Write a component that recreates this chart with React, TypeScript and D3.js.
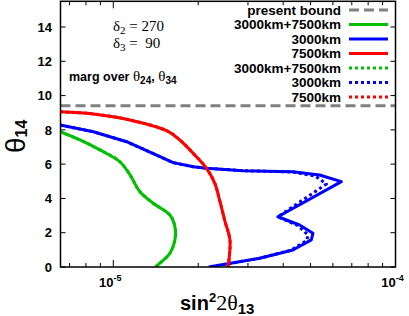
import React from 'react';
import * as d3 from 'd3';

// curves: [sin^2 2theta13, theta14 (deg)]
const green = [
  [6.48e-6, 7.89], [7.62e-6, 7.41], [8.97e-6, 6.83], [1.055e-5, 6.14], [1.146e-5, 5.37],
  [1.243e-5, 4.39], [1.385e-5, 3.72], [1.587e-5, 3.03], [1.653e-5, 2.35], [1.653e-5, 1.58],
  [1.587e-5, 0.8], [1.463e-5, 0.22], [1.41e-5, 0],
];
const blue = [
  [6.48e-6, 8.28], [8.5e-6, 7.89], [1.115e-5, 7.31], [1.463e-5, 6.44], [1.63e-5, 6.09],
  [1.92e-5, 5.85], [2.14e-5, 5.76], [2.88e-5, 5.62], [4.33e-5, 5.56], [5.38e-5, 5.37],
  [6.43e-5, 4.98], [3.83e-5, 2.93], [4.57e-5, 2.45], [5.1e-5, 1.97], [5.03e-5, 1.58],
  [4.33e-5, 0.99], [3.3e-5, 0.51], [2.18e-5, 0],
];
const red = [
  [6.48e-6, 9.06], [8.5e-6, 8.93], [1.115e-5, 8.62], [1.545e-5, 7.95], [1.72e-5, 7.41],
  [1.92e-5, 6.63], [2.14e-5, 5.76], [2.29e-5, 4.88], [2.38e-5, 3.91], [2.48e-5, 2.74],
  [2.59e-5, 1.58], [2.57e-5, 0.41], [2.55e-5, 0],
];
const greenDot = green;
const blueDot = [
  [6.48e-6, 8.28], [8.5e-6, 7.89], [1.115e-5, 7.31], [1.463e-5, 6.44], [1.63e-5, 6.09],
  [1.92e-5, 5.85], [2.14e-5, 5.76], [2.88e-5, 5.62], [4.33e-5, 5.54], [5.2e-5, 5.3],
  [5.69e-5, 4.84], [3.83e-5, 2.93], [4.5e-5, 2.42], [4.9e-5, 1.87], [4.85e-5, 1.55],
  [4.25e-5, 0.97], [3.28e-5, 0.5], [2.18e-5, 0],
];
const redDot = red;
const presentBound = 9.4;

const yTicks = [0, 2, 4, 6, 8, 10, 12, 14];
const xMajor = [1e-5, 1e-4];
const xMinor = [7e-6, 8e-6, 9e-6, 2e-5, 3e-5, 4e-5, 5e-5, 6e-5, 7e-5, 8e-5, 9e-5];

const legendItems = [
  { label: 'present bound', color: '#808080', dash: '10,5' },
  { label: '3000km+7500km', color: '#00c000', dash: null },
  { label: '3000km', color: '#0000ff', dash: null },
  { label: '7500km', color: '#ff0000', dash: null },
  { label: '3000km+7500km', color: '#00c000', dash: '3,3' },
  { label: '3000km', color: '#0000ff', dash: '3,3' },
  { label: '7500km', color: '#ff0000', dash: '3,3' },
];

const sans = '"Liberation Sans", Arial, sans-serif';
const serif = '"Liberation Serif", "Times New Roman", serif';

export default function App() {
  const W = 409, H = 316;
  const left = 60.5, right = 395.5, top = 1.3, bottom = 267;
  const x = d3.scaleLog().domain([6.5e-6, 1e-4]).range([left, right]);
  const y = d3.scaleLinear().domain([0, 15.5]).range([bottom, top]);
  const line = d3.line<number[]>().x(d => x(d[0])).y(d => y(d[1]));
  const smooth = d3.line<number[]>().x(d => x(d[0])).y(d => y(d[1])).curve(d3.curveCatmullRom.alpha(0.5));

  const series = [
    { data: greenDot, color: '#00c000', dash: '3,3', gen: smooth },
    { data: blueDot, color: '#0000ff', dash: '3,3', gen: line },
    { data: redDot, color: '#ff0000', dash: '3,3', gen: smooth },
    { data: green, color: '#00c000', dash: null, gen: smooth },
    { data: blue, color: '#0000ff', dash: null, gen: line },
    { data: red, color: '#ff0000', dash: null, gen: smooth },
  ];

  return (
    <svg width={W} height={H} style={{ position: 'absolute', left: 0, top: 0 }}>
      <rect width={W} height={H} fill="#fff" />
      <defs>
        <clipPath id="plot">
          <rect x={left} y={top} width={right - left} height={bottom - top} />
        </clipPath>
      </defs>
      <g clipPath="url(#plot)">
        <line x1={left} x2={right} y1={y(presentBound)} y2={y(presentBound)}
          stroke="#808080" strokeWidth={3} strokeDasharray="10,5" />
        {series.map((s, i) => (
          <path key={i} d={s.gen(s.data) || ''} fill="none" stroke={s.color} strokeWidth={3}
            strokeDasharray={s.dash || undefined} strokeLinejoin="round" />
        ))}
      </g>

      {/* ticks */}
      {yTicks.map(t => (
        <g key={t}>
          <line x1={left} x2={left + 5} y1={y(t)} y2={y(t)} stroke="#000" />
          <line x1={right} x2={right - 5} y1={y(t)} y2={y(t)} stroke="#000" />
          <text x={52} y={y(t)} dy="0.36em" textAnchor="end" fontFamily={sans} fontWeight="bold" fontSize={13}>{t}</text>
        </g>
      ))}
      {xMajor.map(t => (
        <g key={t}>
          <line x1={x(t)} x2={x(t)} y1={bottom} y2={bottom - 7} stroke="#000" />
          <line x1={x(t)} x2={x(t)} y1={top} y2={top + 7} stroke="#000" />
          <text x={x(t) - 3} y={287} textAnchor="middle" fontFamily={sans} fontWeight="bold" fontSize={13}>
            10<tspan fontSize={9} dy={-6}>{Math.round(Math.log10(t))}</tspan>
          </text>
        </g>
      ))}
      {xMinor.map(t => (
        <g key={t}>
          <line x1={x(t)} x2={x(t)} y1={bottom} y2={bottom - 4} stroke="#000" />
          <line x1={x(t)} x2={x(t)} y1={top} y2={top + 4} stroke="#000" />
        </g>
      ))}
      <rect x={left} y={top} width={right - left} height={bottom - top} fill="none" stroke="#000" strokeWidth={1.5} />

      {/* legend */}
      {legendItems.map((d, i) => {
        const ly = 10 + i * 14.5;
        return (
          <g key={i}>
            <text x={341} y={ly} dy="0.36em" textAnchor="end" fontFamily={sans} fontWeight="bold" fontSize={13.5}>{d.label}</text>
            <line x1={349} x2={388} y1={ly} y2={ly} stroke={d.color} strokeWidth={3} strokeDasharray={d.dash || undefined} />
          </g>
        );
      })}

      {/* annotations */}
      <text x={113} y={31} fontFamily={serif} fontSize={15} style={{ whiteSpace: 'pre' }}>
        δ<tspan fontSize={11} dy={3}>2</tspan><tspan dy={-3}> = 270</tspan>
      </text>
      <text x={113} y={48} fontFamily={serif} fontSize={15} style={{ whiteSpace: 'pre' }}>
        δ<tspan fontSize={11} dy={3}>3</tspan><tspan dy={-3}> =  90</tspan>
      </text>
      <text x={69} y={81} fontFamily={sans} fontWeight="bold" fontSize={12.5}>
        marg over <tspan fontFamily={serif} fontWeight="normal" fontSize={15}>θ</tspan>
        <tspan fontSize={10} dy={3}>24</tspan><tspan dy={-3}>, </tspan>
        <tspan fontFamily={serif} fontWeight="normal" fontSize={15}>θ</tspan>
        <tspan fontSize={10} dy={3}>34</tspan>
      </text>

      {/* axis titles */}
      <text x={180} y={310} fontFamily={sans} fontWeight="bold" fontSize={20}>
        sin<tspan fontSize={13} dy={-8}>2</tspan>
        <tspan fontFamily={serif} fontWeight="normal" fontSize={22} dy={8}>2θ</tspan>
        <tspan fontSize={15} dy={4}>13</tspan>
      </text>
      <text transform="translate(25,153) rotate(-90)" fontFamily={sans} fontSize={28}>
        θ<tspan fontWeight="bold" fontSize={16} dy={2}>14</tspan>
      </text>
    </svg>
  );
}
